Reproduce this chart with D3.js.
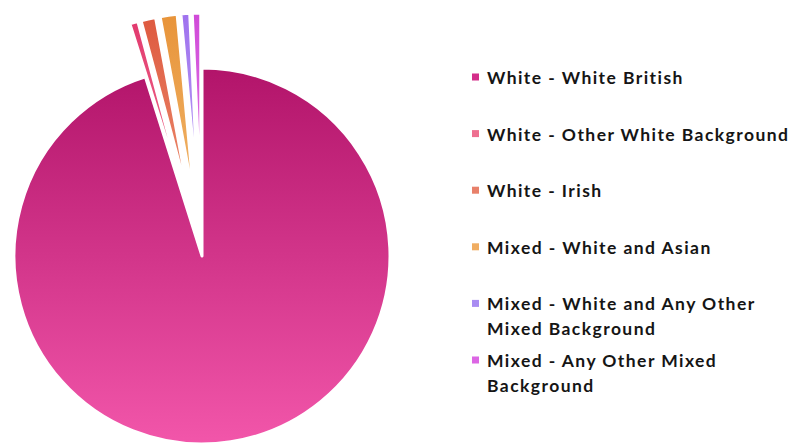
<!DOCTYPE html>
<html>
<head>
<meta charset="utf-8">
<script src="https://cdn.jsdelivr.net/npm/d3@7"></script>
<style>
  html, body { margin: 0; padding: 0; background: #ffffff; }
  svg { display: block; }
</style>
</head>
<body>
<svg id="chart" width="806" height="447"></svg>
<script>
// ---- data ----
const categories = [
  "White - White British",
  "White - Other White Background",
  "White - Irish",
  "Mixed - White and Asian",
  "Mixed - White and Any Other Mixed Background",
  "Mixed - Any Other Mixed Background"
];
const values = [95.1, 0.7, 1.25, 1.45, 0.75, 0.72];
const exploded = [false, true, true, true, true, true];
const colorsTop = ["#b2146a", "#e23a6f", "#de5a40", "#e8943a", "#9f72ee", "#d04ad8"];
const colorsBottom = ["#f256aa", "#f2738f", "#ec8c6e", "#f0b468", "#b9a0f6", "#e27ee8"];
const legendColors = ["#d42e8a", "#ee6f90", "#e8806a", "#f0ad62", "#a98cf2", "#dc66e4"];

// ---- layout ----
const svg = d3.select("#chart");
const cx = 202, cy = 256, radius = 188, explodeDist = 55;

const defs = svg.append("defs");
categories.forEach((c, i) => {
  const g = defs.append("linearGradient")
    .attr("id", "grad" + i)
    .attr("x1", 0).attr("y1", 0).attr("x2", 0).attr("y2", 1);
  g.append("stop").attr("offset", "0%").attr("stop-color", colorsTop[i]);
  g.append("stop").attr("offset", "100%").attr("stop-color", colorsBottom[i]);
});

const pie = d3.pie().sort(null).value(d => d).startAngle(0).endAngle(2 * Math.PI);
const arcs = pie(values);
const arc = d3.arc().innerRadius(0).outerRadius(radius);

const pieG = svg.append("g").attr("transform", `translate(${cx},${cy})`);
pieG.selectAll("path")
  .data(arcs)
  .join("path")
  .attr("d", arc)
  .attr("transform", (d, i) => {
    if (!exploded[i]) return null;
    const mid = (d.startAngle + d.endAngle) / 2;
    return `translate(${explodeDist * Math.sin(mid)},${-explodeDist * Math.cos(mid)})`;
  })
  .attr("fill", (d, i) => `url(#grad${i})`)
  .attr("stroke", "#ffffff")
  .attr("stroke-width", 3)
  .attr("stroke-linejoin", "round");

// ---- legend ----
const legendX = 487, legendY0 = 77, legendStep = 56.6, lineH = 25, maxW = 306;
const refLabel = categories[1], refWidth = 301;
const legend = svg.append("g")
  .attr("font-family", "Lato, 'Noto Sans', sans-serif")
  .attr("font-weight", 700)
  .attr("font-size", 17.5)
  .attr("fill", "#151515");

// fit letter spacing so the widest single-line label spans the reference width
const probe = legend.append("text").text(refLabel);
const baseW = probe.node().getComputedTextLength();
probe.remove();
const spacing = Math.max(0, (refWidth - baseW) / (refLabel.length - 1));
legend.attr("letter-spacing", spacing);

categories.forEach((c, i) => {
  const y = legendY0 + i * legendStep;
  legend.append("rect")
    .attr("x", 472).attr("y", y - 3.5)
    .attr("width", 7).attr("height", 7)
    .attr("fill", legendColors[i]);
  const t = legend.append("text")
    .attr("x", legendX).attr("y", y)
    .attr("dominant-baseline", "central");
  const words = c.split(" ");
  let line = [];
  let lineNo = 0;
  let tspan = t.append("tspan").attr("x", legendX).attr("y", y);
  words.forEach(w => {
    line.push(w);
    tspan.text(line.join(" "));
    if (tspan.node().getComputedTextLength() > maxW && line.length > 1) {
      line.pop();
      tspan.text(line.join(" "));
      line = [w];
      lineNo++;
      tspan = t.append("tspan").attr("x", legendX).attr("y", y + lineNo * lineH).text(w);
    }
  });
});
</script>
</body>
</html>
